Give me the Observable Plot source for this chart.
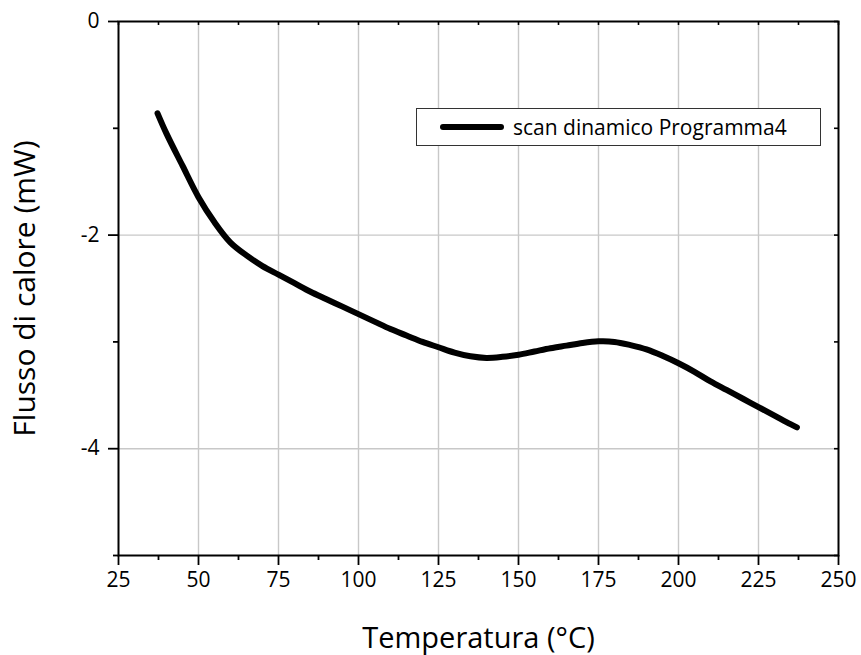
<!DOCTYPE html>
<html>
<head>
<meta charset="utf-8">
<script src="https://cdn.jsdelivr.net/npm/d3@7"></script>
<script src="https://cdn.jsdelivr.net/npm/@observablehq/plot@0.6"></script>
<style>
  body { margin: 0; background: #fff; }
  #wrap { position: relative; width: 861px; height: 655px; font-family: "Open Sans", sans-serif; }
  #legend { position: absolute; left: 416px; top: 108px; width: 405px; height: 38px; border: 1.3px solid #333; background: #fff; box-sizing: border-box; display: flex; align-items: center; }
  #legend svg { margin-left: 22px; }
  #legend span { font-size: 21px; margin-left: 8px; color: #000; }
</style>
</head>
<body>
<div id="wrap"></div>
<script>
const temperature = [37.2, 40, 45, 50, 55, 60, 65, 70, 75, 80, 85, 90, 95, 100, 105, 110, 115, 120, 125, 130, 135, 140, 145, 150, 155, 160, 165, 170, 175, 180, 185, 190, 195, 200, 205, 210, 215, 220, 225, 230, 235, 237];
const heatFlow = [-0.86, -1.05, -1.35, -1.645, -1.88, -2.07, -2.19, -2.29, -2.37, -2.45, -2.53, -2.60, -2.67, -2.74, -2.81, -2.88, -2.94, -3.00, -3.05, -3.10, -3.135, -3.15, -3.14, -3.12, -3.09, -3.06, -3.035, -3.01, -2.995, -3.0, -3.03, -3.07, -3.13, -3.20, -3.28, -3.37, -3.45, -3.53, -3.61, -3.69, -3.77, -3.80];
const xMajor = [25, 50, 75, 100, 125, 150, 175, 200, 225, 250];
const xMinor = [37.5, 62.5, 87.5, 112.5, 137.5, 162.5, 187.5, 212.5, 237.5];
const yMajor = [0, -2, -4];
const yMinor = [-1, -3, -5];
const seriesName = "scan dinamico Programma4";

const data = temperature.map((t, i) => ({t, q: heatFlow[i]}));
const innerH = 655 - 21 - 100;
const innerW = 861 - 118 - 23;

const chart = Plot.plot({
  width: 861,
  height: 655,
  marginLeft: 118,
  marginRight: 23,
  marginTop: 21,
  marginBottom: 100,
  style: {fontFamily: "Open Sans, sans-serif", color: "#000", background: "#fff"},
  x: {domain: [25, 250]},
  y: {domain: [-5, 0]},
  marks: [
    Plot.gridX(xMajor.slice(1, -1), {stroke: "#c8c8c8", strokeOpacity: 1, strokeWidth: 1.4}),
    Plot.gridY([-2, -4], {stroke: "#c8c8c8", strokeOpacity: 1, strokeWidth: 1.4}),
    // bottom axis
    Plot.axisX({ticks: xMajor, tickSize: 10, tickPadding: 7, fontSize: 21, label: null, strokeWidth: 1.8}),
    Plot.axisX({ticks: xMinor, tickSize: 5, tickFormat: () => "", label: null, strokeWidth: 1.8}),
    Plot.axisX({ticks: [], label: "Temperatura (°C)", labelAnchor: "center", labelArrow: "none", labelOffset: 92, fontSize: 29}),
    // left axis
    Plot.axisY({ticks: yMajor, tickSize: 10, tickPadding: 9, fontSize: 21, label: null, strokeWidth: 1.8, tickFormat: d => d === 0 ? "0" : String(d).replace("−", "-")}),
    Plot.axisY({ticks: yMinor, tickSize: 5, tickFormat: () => "", label: null, strokeWidth: 1.8}),
    Plot.axisY({ticks: [], label: "Flusso di calore (mW)", labelAnchor: "center", labelArrow: "none", labelOffset: 105, fontSize: 30}),
    // inward mirror ticks on top and right
    Plot.tickX(xMajor.concat(xMinor), {x: d => d, insetBottom: innerH - 4, stroke: "#000", strokeWidth: 1.6}),
    Plot.tickY(yMajor.concat(yMinor), {y: d => d, insetLeft: innerW - 4, stroke: "#000", strokeWidth: 1.6}),
    Plot.frame({stroke: "#000", strokeWidth: 2}),
    Plot.line(data, {x: "t", y: "q", curve: "catmull-rom", stroke: "#000", strokeWidth: 6, strokeLinecap: "round", strokeLinejoin: "round"})
  ]
});

const wrap = document.getElementById("wrap");
wrap.appendChild(chart);
const legend = document.createElement("div");
legend.id = "legend";
legend.innerHTML = `<svg width="66" height="10"><line x1="4" y1="5" x2="62" y2="5" stroke="#000" stroke-width="6" stroke-linecap="round"/></svg><span></span>`;
legend.querySelector("span").textContent = seriesName;
wrap.appendChild(legend);
</script>
</body>
</html>
